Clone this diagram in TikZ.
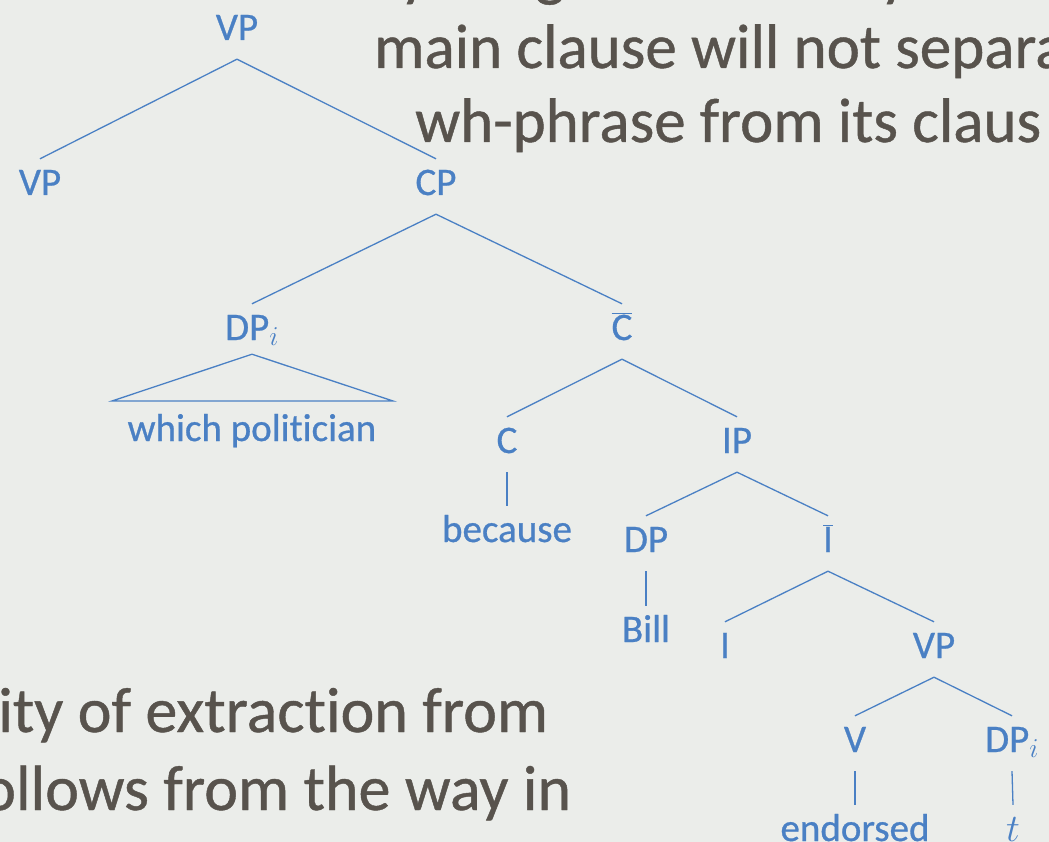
\RequirePackage{fix-cm}
\documentclass[tikz,border=0pt]{standalone}
\usepackage{fontspec}
\setmainfont{Carlito}[Ligatures=NoCommon]
\newfontfamily\labelfont{Carlito}[Ligatures=NoCommon, FakeBold=0.7]
\newfontfamily\slidefont{Carlito}[Ligatures=NoCommon, FakeBold=0.7]
\definecolor{treeblue}{RGB}{74,128,196}
\definecolor{slidegray}{RGB}{88,83,77}
\definecolor{paper}{RGB}{235,237,234}
\begin{document}
\begin{tikzpicture}[x=1pt,y=-1pt,
  lab/.style={text=treeblue, font=\labelfont\fontsize{39}{39}\selectfont, inner sep=0pt,
              text height=36pt, text depth=19pt, anchor=base},
  branch/.style={draw=treeblue, line width=1.3pt},
  body/.style={text=slidegray, font=\slidefont\fontsize{63}{63}\selectfont, inner sep=0pt, anchor=base west},
  bodybig/.style={body, font=\slidefont\fontsize{64}{64}\selectfont}]
  % frame
  \useasboundingbox (0,0) rectangle (1049,842);
  \fill[paper] (0,0) rectangle (1049,842);
  \clip (0,0) rectangle (1049,842);

  % slide text behind the tree; the line above runs off the top edge
  \node[body] (d1) at (400,-6) {y};
  \node[body] (d2) at (535,-6) {g};
  \node[body] (d3) at (880,-6) {y};
  \node[body] (l1) at (374,68) {main clause will not separa};
  \node[body] (l2) at (415,142) {wh-phrase from its claus};
  \node[bodybig] (l3) at (-2,732) {ity of extraction from};
  \node[bodybig] (l4) at (-18,810) {ollows from the way in};

  % tree labels
  \node[lab] (vpA) at (237,40) {VP};
  \node[lab] (vpB) at (40,195) {VP};
  \node[lab] (cp) at (436,195) {CP};
  \node[lab, text depth=14pt] (dpi) at (252,340) {DP$_i$};
  \node[lab] (cbar) at (622,340) {$\overline{\mbox{C}}$};
  \node[lab] (wp) at (252,441) {which politician};
  \node[lab] (c) at (507,453) {C};
  \node[lab] (ip) at (737,453) {IP};
  \node[lab] (because) at (507,542) {because};
  \node[lab] (dp) at (646,552) {DP};
  \node[lab] (ibar) at (828,552) {$\overline{\mbox{I}}$};
  \node[lab] (bill) at (646,642) {Bill};
  \node[lab] (i) at (725,658) {I};
  \node[lab] (vpC) at (934,658) {VP};
  \node[lab] (v) at (855,752) {V};
  \node[lab] (dpj) at (1012,752) {DP$_i$};
  \node[lab] (endorsed) at (855,841) {endorsed};
  \node[lab] (trace) at (1013,841) {$t$};

  % roof over the wh-phrase
  \coordinate (roofL) at (112,401);
  \coordinate (roofR) at (393,401);
  \draw[branch, line join=miter] (dpi.south) -- (roofL) -- (roofR) -- cycle;

  % branches
  \draw[branch] (vpA.south) -- (vpB.north);
  \draw[branch] (vpA.south) -- (cp.north);
  \draw[branch] (cp.south) -- (dpi.north);
  \draw[branch] (cp.south) -- (cbar.north);
  \draw[branch] (cbar.south) -- (c.north);
  \draw[branch] (cbar.south) -- (ip.north);
  \draw[branch] (c.south) -- (because.north);
  \draw[branch] (ip.south) -- (dp.north);
  \draw[branch] (ip.south) -- (ibar.north);
  \draw[branch] (dp.south) -- (bill.north);
  \draw[branch] (ibar.south) -- (i.north);
  \draw[branch] (ibar.south) -- (vpC.north);
  \draw[branch] (vpC.south) -- (v.north);
  \draw[branch] (vpC.south) -- (dpj.north);
  \draw[branch] (v.south) -- (endorsed.north);
  \draw[branch] (dpj.south) -- (trace.north);
\end{tikzpicture}
\end{document}
